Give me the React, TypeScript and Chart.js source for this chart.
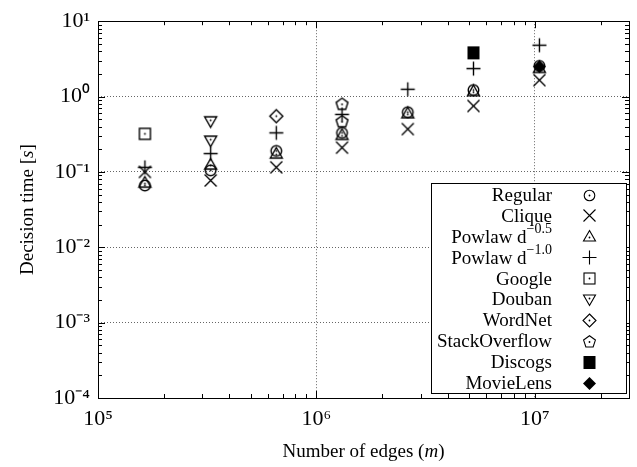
import React, { useEffect, useRef } from "react";
import { Chart, registerables } from "chart.js";
Chart.register(...registerables);

// ---- data ----
const edges = [1.64e5, 3.28e5, 6.55e5, 1.31e6, 2.62e6, 5.24e6, 1.05e7];
const regularTime = [0.066, 0.105, 0.19, 0.33, 0.62, 1.22, 2.55];
const cliqueTime = [0.1, 0.077, 0.115, 0.21, 0.37, 0.75, 1.65];
const powlaw05Time = [0.072, 0.125, 0.175, 0.31, 0.6, 1.18, 2.4];
const powlaw10Time = [0.115, 0.175, 0.33, 0.58, 1.25, 2.35, 4.8];

const googleEdges = [1.64e5];
const googleTime = [0.32];
const doubanEdges = [3.28e5, 3.28e5];
const doubanTime = [0.47, 0.26];
const wordnetEdges = [6.55e5];
const wordnetTime = [0.55];
const stackEdges = [1.31e6, 1.31e6];
const stackTime = [0.8, 0.47];
const discogsEdges = [5.24e6];
const discogsTime = [3.8];
const movielensEdges = [1.05e7];
const movielensTime = [2.5];

const seriesLabels = [
  "Regular",
  "Clique",
  "Powlaw d^\u22120.5",
  "Powlaw d^\u22121.0",
  "Google",
  "Douban",
  "WordNet",
  "StackOverflow",
  "Discogs",
  "MovieLens",
];
const markerKinds = ["circle", "x", "tri", "plus", "square", "triDown", "diamond", "pentagon", "fsquare", "fdiamond"];

const xDecades = [5, 6, 7];
const yDecades = [-4, -3, -2, -1, 0, 1];
const xMin = 1e5;
const xMax = 2.7e7;
const yMin = 1e-4;
const yMax = 10;

const xTitleParts: [string, boolean][] = [["Number of edges (", false], ["m", true], [")", false]];
const yTitleParts: [string, boolean][] = [["Decision time [", false], ["s", true], ["]", false]];

const FONT = "'Liberation Serif', 'Times New Roman', serif";

const SUP: Record<string, string> = {
  "0": "\u2070", "1": "\u00b9", "2": "\u00b2", "3": "\u00b3", "4": "\u2074",
  "5": "\u2075", "6": "\u2076", "7": "\u2077", "8": "\u2078", "9": "\u2079", "-": "\u207b",
};
const toSup = (n: number) => String(n).split("").map((c) => SUP[c] || c).join("");
const isPow10 = (v: number) => Math.abs(Math.log10(v) - Math.round(Math.log10(v))) < 1e-6;

function tickList(decades: number[], lo: number, hi: number) {
  const out: number[] = [];
  for (const d of decades) {
    for (let k = 1; k <= 9; k++) {
      const v = k * Math.pow(10, d);
      if (v >= lo * 0.999 && v <= hi * 1.001) out.push(v);
    }
  }
  return out;
}

function makeMarker(kind: string, lw = 1.3): HTMLCanvasElement {
  const S = 17;
  const c = document.createElement("canvas");
  c.width = S;
  c.height = S;
  const g = c.getContext("2d")!;
  g.translate(S / 2, S / 2);
  g.strokeStyle = "#000";
  g.fillStyle = "#000";
  g.lineWidth = lw;
  const dot = (dx = 0, dy = 0) => {
    g.beginPath();
    g.arc(dx, dy, 0.9, 0, Math.PI * 2);
    g.fill();
  };
  const poly = (pts: number[][]) => {
    g.beginPath();
    pts.forEach(([x, y], i) => (i ? g.lineTo(x, y) : g.moveTo(x, y)));
    g.closePath();
  };
  switch (kind) {
    case "circle":
      g.beginPath();
      g.arc(0, 0, 5.3, 0, Math.PI * 2);
      g.stroke();
      dot();
      break;
    case "x":
      g.beginPath();
      g.moveTo(-6, -6);
      g.lineTo(6, 6);
      g.moveTo(6, -6);
      g.lineTo(-6, 6);
      g.stroke();
      break;
    case "tri":
      poly([[0, -6], [6, 4.5], [-6, 4.5]]);
      g.stroke();
      dot(0, 1);
      break;
    case "plus":
      g.beginPath();
      g.moveTo(-7, 0);
      g.lineTo(7, 0);
      g.moveTo(0, -7);
      g.lineTo(0, 7);
      g.stroke();
      break;
    case "square":
      g.strokeRect(-5.5, -5.5, 11, 11);
      dot();
      break;
    case "triDown":
      poly([[0, 6], [6, -4.5], [-6, -4.5]]);
      g.stroke();
      dot(0, -1);
      break;
    case "diamond":
      poly([[0, -6.5], [6.5, 0], [0, 6.5], [-6.5, 0]]);
      g.stroke();
      dot();
      break;
    case "pentagon": {
      const pts: number[][] = [];
      for (let i = 0; i < 5; i++) {
        const a = -Math.PI / 2 + (i * 2 * Math.PI) / 5;
        pts.push([6.2 * Math.cos(a), 6.2 * Math.sin(a) + 0.5]);
      }
      poly(pts);
      g.stroke();
      dot(0, 0.5);
      break;
    }
    case "fsquare":
      g.fillRect(-6, -6.5, 12, 13);
      break;
    case "fdiamond":
      poly([[0, -6.5], [6.5, 0], [0, 6.5], [-6.5, 0]]);
      g.fill();
      break;
  }
  return c;
}

function drawMixed(ctx: CanvasRenderingContext2D, parts: [string, boolean][], size: number) {
  const fonts = parts.map(([, it]) => `${it ? "italic " : ""}${size}px ${FONT}`);
  let total = 0;
  const widths = parts.map(([t], i) => {
    ctx.font = fonts[i];
    const w = ctx.measureText(t).width;
    total += w;
    return w;
  });
  let x = -total / 2;
  ctx.textAlign = "left";
  ctx.textBaseline = "middle";
  parts.forEach(([t], i) => {
    ctx.font = fonts[i];
    ctx.fillText(t, x, 0);
    x += widths[i];
  });
}

const decorPlugin = {
  id: "decor",
  afterDraw(chart: any) {
    const { ctx, chartArea: a, scales } = chart;
    const xs = scales.x;
    const ys = scales.y;
    ctx.save();
    ctx.strokeStyle = "#000";
    ctx.lineWidth = 1;
    ctx.setLineDash([]);
    ctx.beginPath();
    for (const t of xs.ticks) {
      const px = Math.round(xs.getPixelForValue(t.value)) + 0.5;
      const len = isPow10(t.value) ? 7 : 4;
      ctx.moveTo(px, a.bottom);
      ctx.lineTo(px, a.bottom - len);
      ctx.moveTo(px, a.top);
      ctx.lineTo(px, a.top + len);
    }
    for (const t of ys.ticks) {
      const py = Math.round(ys.getPixelForValue(t.value)) + 0.5;
      const len = isPow10(t.value) ? 7 : 4;
      ctx.moveTo(a.left, py);
      ctx.lineTo(a.left + len, py);
      ctx.moveTo(a.right, py);
      ctx.lineTo(a.right - len, py);
    }
    ctx.stroke();
    ctx.strokeRect(Math.round(a.left) + 0.5, Math.round(a.top) + 0.5, Math.round(a.right - a.left), Math.round(a.bottom - a.top));

    // legend
    const bw = 195;
    const bh = 210;
    const bx = Math.round(a.right) - 3 - bw;
    const by = Math.round(a.bottom) - 5 - bh;
    ctx.fillStyle = "#fff";
    ctx.fillRect(bx, by, bw, bh);
    ctx.strokeRect(bx + 0.5, by + 0.5, bw, bh);
    ctx.fillStyle = "#000";
    const rowH = 20.9;
    const textRight = bx + 121;
    const symX = bx + 158;
    chart.data.datasets.forEach((ds: any, i: number) => {
      const cy = by + 12 + i * rowH;
      const [base, sup] = String(ds.label).split("^");
      ctx.textBaseline = "middle";
      ctx.textAlign = "left";
      ctx.font = `19px ${FONT}`;
      const wb = ctx.measureText(base).width;
      let ws = 0;
      if (sup) {
        ctx.font = `14px ${FONT}`;
        ws = ctx.measureText(sup).width;
      }
      ctx.font = `19px ${FONT}`;
      ctx.fillText(base, textRight - wb - ws, cy + 1);
      if (sup) {
        ctx.font = `14px ${FONT}`;
        ctx.fillText(sup, textRight - ws, cy - 7);
      }
      const img = ds.legendMarker as HTMLCanvasElement;
      ctx.drawImage(img, Math.round(symX - img.width / 2), Math.round(cy - img.height / 2));
    });

    // axis titles
    ctx.fillStyle = "#000";
    ctx.save();
    ctx.translate((a.left + a.right) / 2, 452);
    drawMixed(ctx, xTitleParts, 19);
    ctx.restore();
    ctx.save();
    ctx.translate(28, (a.top + a.bottom) / 2);
    ctx.rotate(-Math.PI / 2);
    drawMixed(ctx, yTitleParts, 19);
    ctx.restore();
    ctx.restore();
  },
};

export default function App() {
  const ref = useRef<HTMLCanvasElement | null>(null);
  useEffect(() => {
    if (!ref.current) return;
    const xs = [edges, edges, edges, edges, googleEdges, doubanEdges, wordnetEdges, stackEdges, discogsEdges, movielensEdges];
    const ys = [regularTime, cliqueTime, powlaw05Time, powlaw10Time, googleTime, doubanTime, wordnetTime, stackTime, discogsTime, movielensTime];
    const datasets = seriesLabels.map((label, i) => ({
      label,
      data: xs[i].map((x, j) => ({ x, y: ys[i][j] })),
      pointStyle: makeMarker(markerKinds[i], 1.4),
      legendMarker: makeMarker(markerKinds[i], 1.1),
      pointRadius: 7,
      pointHoverRadius: 7,
      showLine: false,
      borderColor: "#000",
      backgroundColor: "#000",
      order: 20 - i,
    }));
    const xTicks = tickList(xDecades, xMin, xMax);
    const yTicks = tickList(yDecades, yMin, yMax);
    const gridColor = (c: any) => (c.tick && isPow10(c.tick.value) ? "rgba(0,0,0,0.6)" : "rgba(0,0,0,0)");
    const chart = new Chart(ref.current, {
      type: "scatter",
      data: { datasets: datasets as any },
      plugins: [decorPlugin],
      options: {
        animation: false,
        responsive: false,
        devicePixelRatio: 1,
        layout: { padding: { top: 20, right: 7, left: 0, bottom: 0 } },
        plugins: { legend: { display: false }, tooltip: { enabled: false } },
        scales: {
          x: {
            type: "logarithmic",
            min: xMin,
            max: xMax,
            afterBuildTicks: (s: any) => {
              s.ticks = xTicks.map((v) => ({ value: v }));
            },
            afterFit: (s: any) => {
              s.height = 69;
            },
            ticks: {
              autoSkip: false,
              maxRotation: 0,
              padding: 8,
              color: "#000",
              font: { family: FONT, size: 22 },
              callback: (v: any) => (isPow10(Number(v)) ? "10" + toSup(Math.round(Math.log10(Number(v)))) : ""),
            },
            grid: { color: gridColor, drawTicks: false, lineWidth: 1 },
            border: { display: false, dash: [1, 2] },
          },
          y: {
            type: "logarithmic",
            min: yMin,
            max: yMax,
            afterBuildTicks: (s: any) => {
              s.ticks = yTicks.map((v) => ({ value: v }));
            },
            afterFit: (s: any) => {
              s.width = 98;
            },
            ticks: {
              autoSkip: false,
              padding: 8,
              color: "#000",
              font: { family: FONT, size: 22 },
              callback: (v: any) => (isPow10(Number(v)) ? "10" + toSup(Math.round(Math.log10(Number(v)))) : ""),
            },
            grid: { color: gridColor, drawTicks: false, lineWidth: 1 },
            border: { display: false, dash: [1, 2] },
          },
        },
      } as any,
    });
    return () => chart.destroy();
  }, []);
  return (
    <div style={{ position: "fixed", left: 0, top: 0, width: 637, height: 467, background: "#fff" }}>
      <canvas ref={ref} width={637} height={467} style={{ display: "block", width: 637, height: 467 }} />
    </div>
  );
}
